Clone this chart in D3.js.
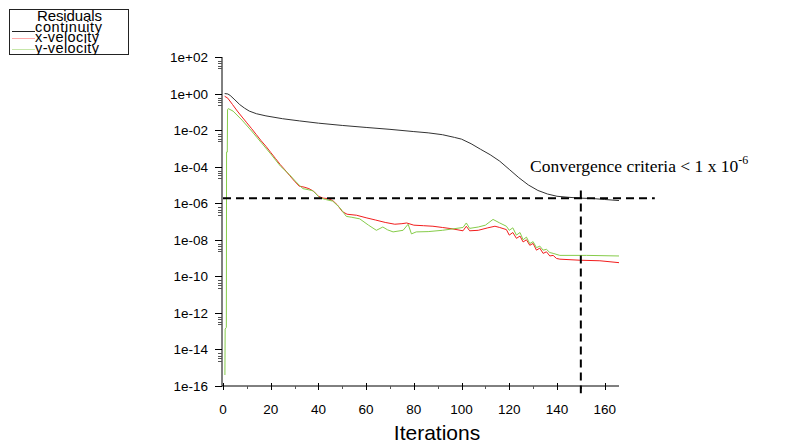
<!DOCTYPE html>
<html>
<head>
<meta charset="utf-8">
<script src="https://cdn.jsdelivr.net/npm/d3@7"></script>
<style>
  body { margin: 0; background: #fff; }
  svg { display: block; font-family: "Liberation Sans", Arial, sans-serif; }
</style>
</head>
<body>
<svg id="chart" width="799" height="446"></svg>
<script>
// residual histories
const contIter = [0.7, 2, 3, 5, 7, 9, 11, 14, 18, 25, 32, 40, 50, 60, 70, 80, 86, 92, 97, 100, 104, 108, 112, 116, 120, 124, 128, 132, 136, 140, 145, 150, 155, 160, 166];
const contVal = [1.0, 0.95, 0.79, 0.45, 0.25, 0.16, 0.11, 7.9e-2, 6.0e-2, 4.2e-2, 3.2e-2, 2.4e-2, 1.8e-2, 1.4e-2, 1.1e-2, 8.3e-3, 7.1e-3, 5.6e-3, 4.0e-3, 3.2e-3, 1.8e-3, 8.9e-4, 4.5e-4, 2.0e-4, 7.1e-5, 2.5e-5, 1.0e-5, 5.0e-6, 3.2e-6, 2.4e-6, 2.1e-6, 1.9e-6, 1.8e-6, 1.6e-6, 1.4e-6];

const xvelIter = [0.7, 2, 4, 6, 8, 10, 12, 14, 16, 18, 20, 22, 24, 26, 28, 30, 32, 34, 36, 38, 40, 42, 44, 46, 48, 50, 52, 56, 60, 64, 68, 72, 75, 77, 80, 84, 88, 92, 96, 100.6, 102, 103.4, 107, 111, 114, 116, 118.8, 120, 121.5, 123, 124.5, 125.8, 127.2, 128.6, 130, 131.4, 132.8, 134.2, 135.6, 137, 138.4, 139.8, 141.2, 149.6, 158, 166];
const xvelVal = [0.71, 0.56, 0.25, 0.11, 5.2e-2, 2.5e-2, 1.2e-2, 5.6e-3, 2.6e-3, 1.3e-3, 6.0e-4, 2.8e-4, 1.3e-4, 6.6e-5, 3.2e-5, 1.6e-5, 8.5e-6, 7.6e-6, 6.3e-6, 4.5e-6, 2.4e-6, 1.9e-6, 1.8e-6, 1.4e-6, 7.9e-7, 3.5e-7, 2.5e-7, 2.2e-7, 1.6e-7, 1.2e-7, 8.9e-8, 7.1e-8, 7.6e-8, 8.3e-8, 6.3e-8, 5.9e-8, 5.5e-8, 4.7e-8, 4.0e-8, 3.1e-8, 5.5e-8, 3.1e-8, 3.3e-8, 4.5e-8, 5.5e-8, 4.7e-8, 3.6e-8, 1.8e-8, 2.5e-8, 1.2e-8, 1.6e-8, 7.6e-9, 1.0e-8, 5.0e-9, 6.3e-9, 2.7e-9, 3.5e-9, 1.8e-9, 2.2e-9, 1.3e-9, 1.4e-9, 9.5e-10, 8.7e-10, 7.6e-10, 7.1e-10, 5.6e-10];

const yvelIter = [0.8, 0.9, 1.4, 1.5, 1.8, 1.9, 2.2, 4.2, 8, 12, 16, 20, 24, 28, 31, 33.5, 36, 37.7, 40.5, 43, 46, 49, 51.7, 54, 57.3, 61, 64.3, 67, 69, 71.3, 75.5, 77.6, 79, 81, 86, 92, 100.6, 102, 103.4, 107, 110, 113.2, 116, 118.8, 120, 121.5, 123, 124.5, 125.8, 127.2, 128.6, 130, 131.4, 132.8, 134.2, 135.6, 137, 138.4, 141.2, 152.4, 166];
const yvelVal = [4.0e-16, 1.3e-13, 1.6e-13, 6.3e-4, 6.3e-4, 0.13, 0.15, 0.11, 3.5e-2, 8.9e-3, 2.1e-3, 5.0e-4, 1.1e-4, 3.5e-5, 1.3e-5, 6.3e-6, 5.4e-6, 4.8e-6, 2.0e-6, 1.6e-6, 1.3e-6, 5.6e-7, 1.9e-7, 1.7e-7, 1.4e-7, 6.3e-8, 3.3e-8, 5.0e-8, 3.5e-8, 2.7e-8, 3.3e-8, 7.1e-8, 2.1e-8, 2.7e-8, 2.8e-8, 3.3e-8, 4.7e-8, 8.3e-8, 4.2e-8, 5.0e-8, 6.3e-8, 1.3e-7, 8.3e-8, 5.5e-8, 3.3e-8, 4.5e-8, 1.8e-8, 2.5e-8, 1.0e-8, 1.4e-8, 6.2e-9, 7.9e-9, 3.7e-9, 4.5e-9, 2.7e-9, 3.0e-9, 2.0e-9, 1.8e-9, 1.4e-9, 1.4e-9, 1.3e-9];

const xTicks = [0, 20, 40, 60, 80, 100, 120, 140, 160];
const xMinor = [10, 30, 50, 70, 90, 110, 130, 150];
const yTicks = [1e2, 1e0, 1e-2, 1e-4, 1e-6, 1e-8, 1e-10, 1e-12, 1e-14, 1e-16];
const yTickLabels = ["1e+02", "1e+00", "1e-02", "1e-04", "1e-06", "1e-08", "1e-10", "1e-12", "1e-14", "1e-16"];
const minorFactors = [0.6, 0.45, 0.33, 0.24];

const criterion = 1.9e-6;   // where the horizontal dashed line sits
const criterionIter = 150;

const seriesNames = ["continuity", "x-velocity", "y-velocity"];

const svg = d3.select("#chart");

const x = d3.scaleLinear().domain([0, 166]).range([223, 619]);
const y = d3.scaleLog().domain([1e-16, 1e2]).range([386, 57]);

// axes drawn by hand to get the old solver look
const axisG = svg.append("g").attr("stroke", "#000").attr("fill", "none");

axisG.append("line")
  .attr("x1", x(0) - 1).attr("x2", x(0) - 1)
  .attr("y1", y(1e2)).attr("y2", y(1e-16));
axisG.append("line")
  .attr("x1", x(0) - 1).attr("x2", x(166))
  .attr("y1", y(1e-16)).attr("y2", y(1e-16));

// y ticks
axisG.selectAll(".ymaj")
  .data(yTicks)
  .enter().append("line")
  .attr("x1", x(0) - 8).attr("x2", x(0) - 1)
  .attr("y1", d => Math.round(y(d)) + 0.5)
  .attr("y2", d => Math.round(y(d)) + 0.5);

const minors = [];
yTicks.slice(0, -1).forEach(t => minorFactors.forEach(f => minors.push(t * f)));
axisG.selectAll(".ymin")
  .data(minors)
  .enter().append("line")
  .attr("stroke", "#555")
  .attr("x1", x(0) - 5).attr("x2", x(0) - 1)
  .attr("y1", d => Math.round(y(d)) + 0.5)
  .attr("y2", d => Math.round(y(d)) + 0.5);

svg.append("g")
  .selectAll("text")
  .data(yTicks)
  .enter().append("text")
  .attr("x", 208)
  .attr("y", d => y(d) + 5)
  .attr("text-anchor", "end")
  .attr("font-size", "13.5px")
  .text((d, i) => yTickLabels[i]);

// x ticks
axisG.selectAll(".xmaj")
  .data(xTicks)
  .enter().append("line")
  .attr("x1", d => Math.round(x(d)) + 0.5).attr("x2", d => Math.round(x(d)) + 0.5)
  .attr("y1", y(1e-16) - 3).attr("y2", y(1e-16) + 4);

axisG.selectAll(".xmin")
  .data(xMinor)
  .enter().append("line")
  .attr("stroke", "#555")
  .attr("x1", d => Math.round(x(d)) + 0.5).attr("x2", d => Math.round(x(d)) + 0.5)
  .attr("y1", y(1e-16)).attr("y2", y(1e-16) + 3);

svg.append("g")
  .selectAll("text")
  .data(xTicks)
  .enter().append("text")
  .attr("x", d => x(d))
  .attr("y", 414)
  .attr("text-anchor", "middle")
  .attr("font-size", "13.5px")
  .text(d => d);

svg.append("text")
  .attr("x", 437)
  .attr("y", 440)
  .attr("text-anchor", "middle")
  .attr("font-size", "21px")
  .text("Iterations");

// residual lines
const line = d3.line()
  .x(d => x(d[0]))
  .y(d => y(d[1]));

const series = [
  { iter: contIter, vals: contVal, color: "#333" },
  { iter: xvelIter, vals: xvelVal, color: "#f21d1d" },
  { iter: yvelIter, vals: yvelVal, color: "#86cc4a" }
];

series.forEach(s => {
  svg.append("path")
    .datum(d3.zip(s.iter, s.vals))
    .attr("fill", "none")
    .attr("stroke", s.color)
    .attr("stroke-width", 1)
    .attr("d", line);
});

// convergence criterion
svg.append("line")
  .attr("x1", x(0)).attr("x2", x(181))
  .attr("y1", y(criterion)).attr("y2", y(criterion))
  .attr("stroke", "#000")
  .attr("stroke-width", 2)
  .attr("stroke-dasharray", "8,5");

svg.append("line")
  .attr("x1", x(criterionIter)).attr("x2", x(criterionIter))
  .attr("y1", y(5e-6)).attr("y2", y(4e-17))
  .attr("stroke", "#000")
  .attr("stroke-width", 2)
  .attr("stroke-dasharray", "8,5");

const conv = svg.append("text")
  .attr("x", 530)
  .attr("y", 172)
  .attr("font-family", "'Liberation Serif', 'Times New Roman', serif")
  .attr("font-size", "17.5px");
conv.append("tspan").text("Convergence criteria < 1 x 10");
conv.append("tspan")
  .attr("font-size", "12px")
  .attr("dy", -8)
  .text("-6");

// legend box, text clipped at the bottom like the original
svg.append("clipPath").attr("id", "legClip")
  .append("rect").attr("x", 9).attr("y", 9).attr("width", 120).attr("height", 46);

svg.append("rect")
  .attr("x", 9.5).attr("y", 9.5).attr("width", 119).attr("height", 45)
  .attr("fill", "none").attr("stroke", "#222");

const leg = svg.append("g").attr("clip-path", "url(#legClip)");
leg.append("text")
  .attr("x", 37).attr("y", 21)
  .attr("font-size", "15px")
  .attr("textLength", 65)
  .text("Residuals");

const legColors = ["#222", "#ffaaaa", "#c6e6a8"];
const legLineY = [31.5, 38.5, 49.5];
const legTextLen = [67, 64, 64];
seriesNames.forEach((name, i) => {
  leg.append("line")
    .attr("x1", 12).attr("x2", 35)
    .attr("y1", legLineY[i]).attr("y2", legLineY[i])
    .attr("stroke", legColors[i]);
  leg.append("text")
    .attr("x", 35).attr("y", 31.5 + i * 10.8)
    .attr("font-size", "14.5px")
    .attr("textLength", legTextLen[i])
    .text(name);
});
</script>
</body>
</html>
